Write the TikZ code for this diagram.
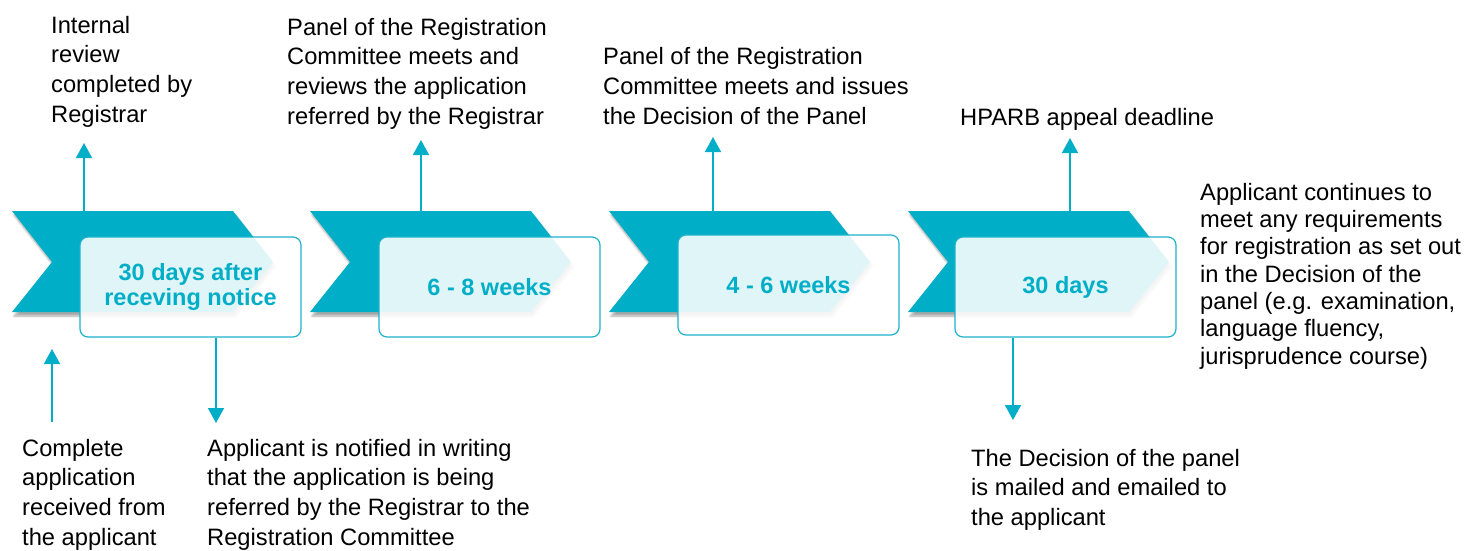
\documentclass[tikz,border=0pt]{standalone}
\usepackage{fontspec}
\setmainfont{Liberation Sans}
\usetikzlibrary{arrows.meta,shadows.blur}
\definecolor{teal1}{RGB}{0,174,199}
\definecolor{boxline}{RGB}{30,178,205}
\begin{document}
\begin{tikzpicture}[x=1pt,y=-1pt,
  chev/.style={fill=teal1, blur shadow={shadow xshift=2pt,shadow yshift=-4pt,shadow blur steps=6,shadow opacity=35}},
  stagebox/.style={draw=boxline, line width=1.2pt, rounded corners=8pt, fill=white, fill opacity=0.88, text opacity=1,
    minimum width=221pt, minimum height=100pt, inner sep=0pt, text=teal1, align=center,
    font=\bfseries\fontsize{23.5}{25.5}\selectfont},
  conn/.style={draw=teal1, line width=1.5pt, -{Triangle[width=16pt,length=15pt]}},
  lbl/.style={anchor=base west, align=left, inner sep=0pt, font=\fontsize{23.7}{29.6}\selectfont},
  lbltight/.style={lbl, font=\fontsize{23.7}{27.3}\selectfont}
]
\useasboundingbox (0,0) rectangle (1468,550);
% chevrons
\foreach \x in {12,310,609,908}{
  \fill[chev] (\x,211) -- ++(221,0) -- ++(40,51) -- ++(-40,50) -- ++(-221,0) -- ++(40,-50) -- cycle;
}
% boxes
\node[stagebox] (b1) at (190.5,287) {30 days after\\receving notice};
\node[stagebox] (b2) at (489.5,287) {6 - 8 weeks};
\node[stagebox] (b3) at (788.5,285) {4 - 6 weeks};
\node[stagebox] (b4) at (1065.5,287) {30 days};
% texts (anchored at the baseline of the last line)
\node[lbl] (t1) at (51,122) {Internal\\review\\completed by\\Registrar};
\node[lbl] (t2) at (287,124) {Panel of the Registration\\Committee meets and\\reviews the application\\referred by the Registrar};
\node[lbl] (t3) at (603,124) {Panel of the Registration\\Committee meets and issues\\the Decision of the Panel};
\node[lbl] (t4) at (960,125) {HPARB appeal deadline};
\node[lbltight] (t5) at (1200,364) {Applicant continues to\\meet any requirements\\for registration as set out\\in the Decision of the\\panel (e.g. examination,\\language fluency,\\jurisprudence course)};
\node[lbl] (t6) at (22,545) {Complete\\application\\received from\\the applicant};
\node[lbl] (t7) at (207,545) {Applicant is notified in writing\\that the application is being\\referred by the Registrar to the\\Registration Committee};
\node[lbl, font=\fontsize{23.7}{29.3}\selectfont] (t8) at (971,525) {The Decision of the panel\\is mailed and emailed to\\the applicant};
% connector coordinates
\coordinate (s1) at (84,211);   \coordinate (e1) at (84,143);
\coordinate (s2) at (421,211);  \coordinate (e2) at (421,140);
\coordinate (s3) at (713,211);  \coordinate (e3) at (713,137);
\coordinate (s4) at (1070,211); \coordinate (e4) at (1070,138);
\coordinate (s5) at (52,422);   \coordinate (e5) at (52,349);
\coordinate (e6) at (216,423);
\coordinate (e7) at (1013,420);
% connectors
\draw[conn] (s1) -- (e1);
\draw[conn] (s2) -- (e2);
\draw[conn] (s3) -- (e3);
\draw[conn] (s4) -- (e4);
\draw[conn] (s5) -- (e5);
\draw[conn] (b1.south -| e6) -- (e6);
\draw[conn] (b4.south -| e7) -- (e7);
\end{tikzpicture}
\end{document}
